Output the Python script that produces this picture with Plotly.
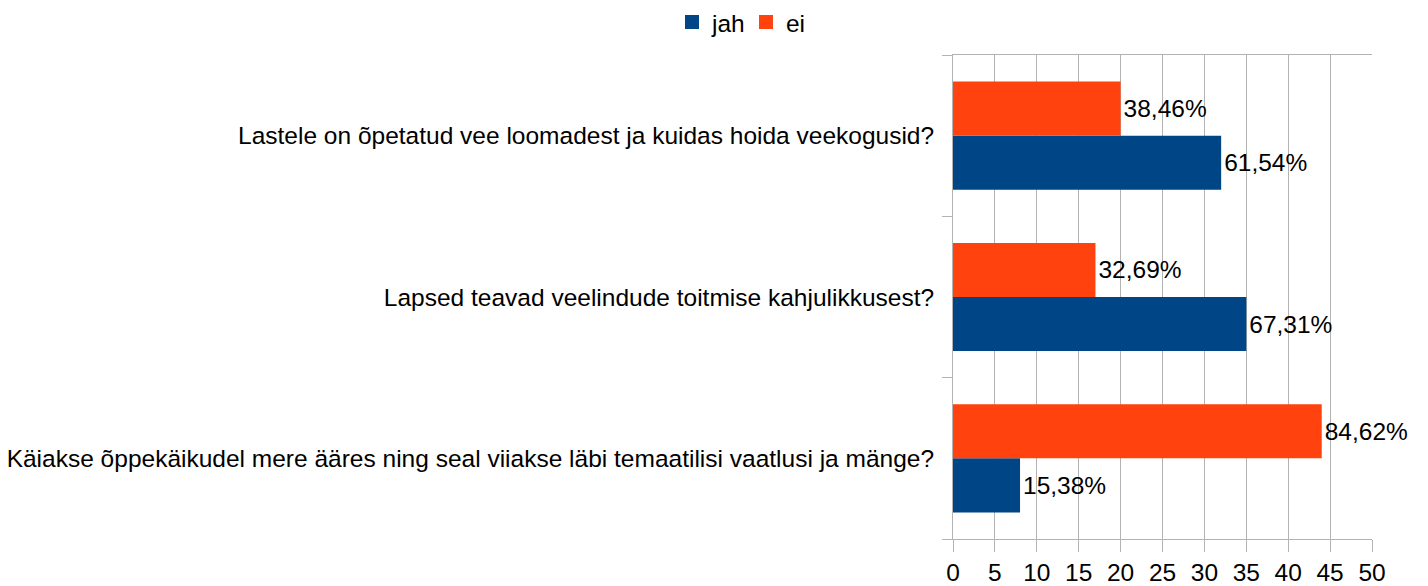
import plotly.graph_objects as go

categories = [
    "Käiakse õppekäikudel mere ääres ning seal viiakse läbi temaatilisi vaatlusi ja mänge?",
    "Lapsed teavad veelindude toitmise kahjulikkusest?",
    "Lastele on õpetatud vee loomadest ja kuidas hoida veekogusid?",
]
jah_values = [8, 35, 32]
ei_values = [44, 17, 20]
jah_labels = ["15,38%", "67,31%", "61,54%"]
ei_labels = ["84,62%", "32,69%", "38,46%"]
x_ticks = [0, 5, 10, 15, 20, 25, 30, 35, 40, 45, 50]

series_names = ["jah", "ei"]
series_colors = ["#004586", "#ff420e"]

font_family = "Liberation Sans, Arial, sans-serif"
font_size = 24.5
grid_color = "#b3b3b3"

fig = go.Figure()
for name, vals, labels, color in zip(series_names, [jah_values, ei_values],
                                     [jah_labels, ei_labels], series_colors):
    fig.add_trace(go.Bar(
        y=categories, x=vals, name=name, orientation="h",
        marker=dict(color=color, line=dict(width=0)),
        text=labels, textposition="outside", cliponaxis=False,
        textfont=dict(size=font_size, color="#000000", family=font_family),
        showlegend=False,
    ))
# legend entries (square swatches)
for name, color in zip(series_names, series_colors):
    fig.add_trace(go.Scatter(
        x=[None], y=[None], mode="markers", name=name,
        marker=dict(symbol="square", size=14, color=color, line=dict(width=0)),
        showlegend=True,
    ))

fig.update_layout(
    width=1420, height=578,
    paper_bgcolor="white", plot_bgcolor="white",
    barmode="group", bargap=0.33, bargroupgap=0,
    margin=dict(l=945, r=56, t=47, b=47, autoexpand=False),
    font=dict(family=font_family, size=font_size, color="#000000"),
    showlegend=True,
    legend=dict(
        orientation="h", xref="container", yref="paper",
        x=0.4676, y=1.068, xanchor="left", yanchor="middle",
        font=dict(size=font_size), itemwidth=30, entrywidth=29,
        tracegroupgap=0, traceorder="normal", itemsizing="trace",
    ),
)
fig.update_xaxes(
    range=[0, 50], tickvals=x_ticks, ticktext=[str(v) for v in x_ticks],
    showgrid=True, gridcolor=grid_color, gridwidth=1,
    zeroline=False, showline=True, linecolor=grid_color, linewidth=1,
    mirror=True, ticks="outside", ticklen=12, tickcolor=grid_color,
    tickfont=dict(size=font_size, family=font_family, color="#000000"),
    automargin=False,
)
fig.update_yaxes(
    type="category", categoryorder="array", categoryarray=categories,
    showgrid=False, showline=True, linecolor=grid_color, linewidth=1,
    ticks="outside", ticklen=10, tickcolor=grid_color, tickson="boundaries",
    tickfont=dict(size=font_size, family=font_family, color="#000000"),
    ticklabelstandoff=13, automargin=False,
)

fig.write_html("out.html")
